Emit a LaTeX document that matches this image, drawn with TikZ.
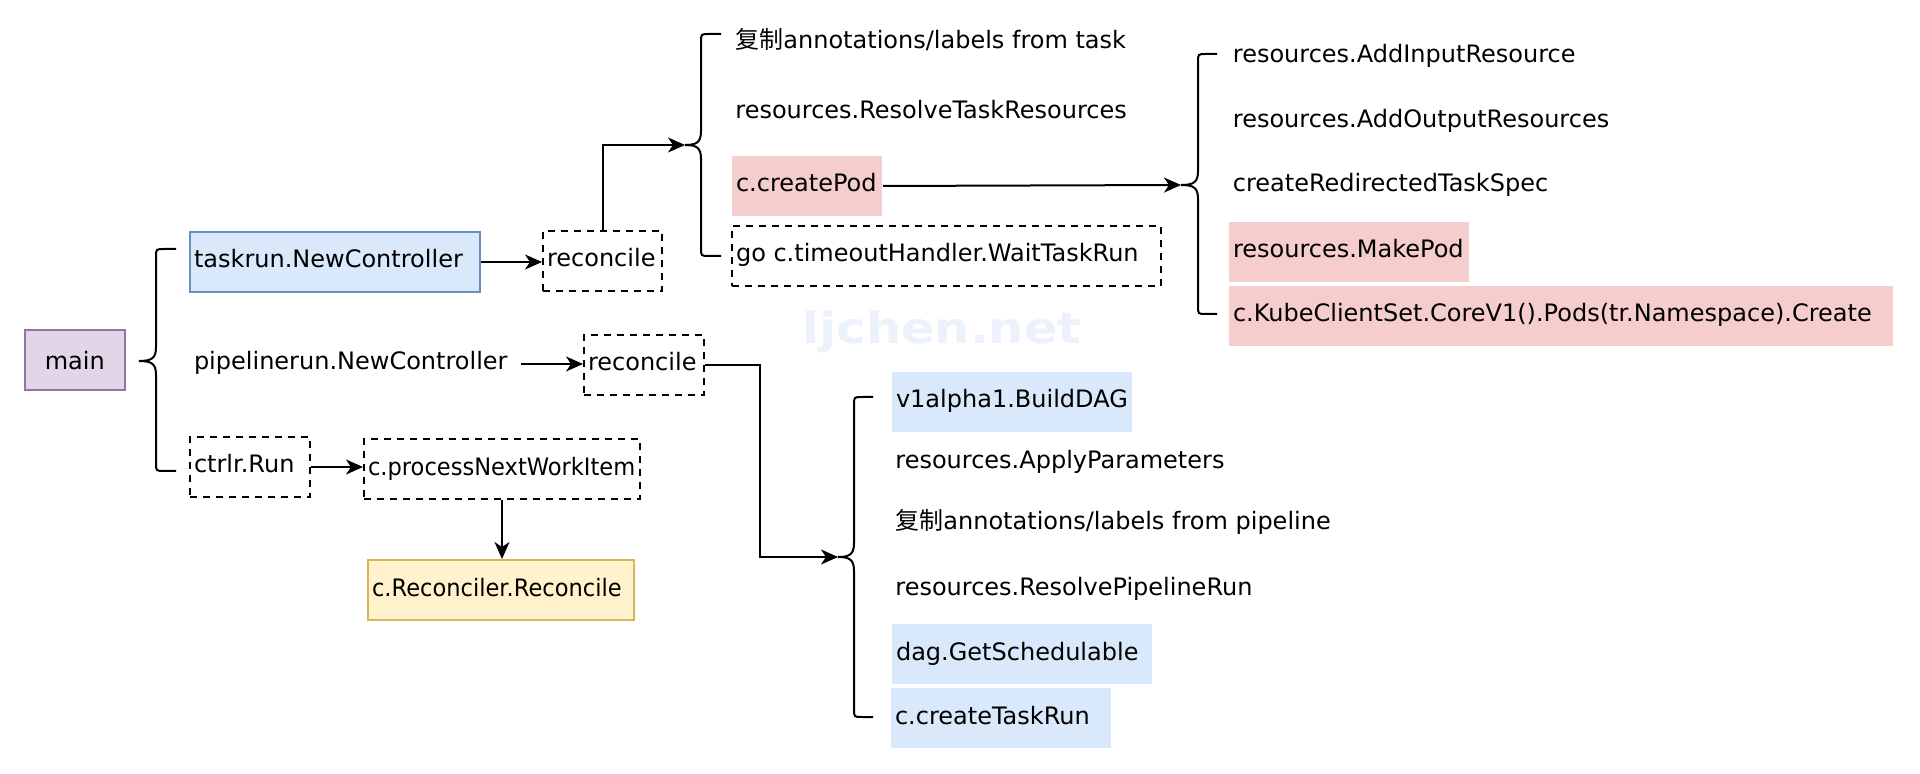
\documentclass[tikz,border=0pt]{standalone}
\usepackage{fontspec}
\setmainfont{DejaVu Sans}
\newfontfamily\cjk{Noto Sans CJK SC}
\usetikzlibrary{arrows.meta}
\definecolor{purplefill}{HTML}{E1D5E7}
\definecolor{purpleline}{HTML}{9673A6}
\definecolor{bluefill}{HTML}{DAE8FC}
\definecolor{blueline}{HTML}{6C8EBF}
\definecolor{redfill}{HTML}{F4CDCC}
\definecolor{yellowfill}{HTML}{FFF2CC}
\definecolor{yellowline}{HTML}{D6B656}
\definecolor{wmark}{RGB}{235,242,252}
\newcommand\lbx[2]{\makebox[#1][l]{#2}}
\newcommand\narrow[1]{\scalebox{0.94}[1]{#1}}
% name, x end, x vertical, x tip, y top, y mid, y bottom
\newcommand\mybrace[7]{%
  \draw[brace line] (#2,#5) -- (#3+8,#5) .. controls (#3,#5) .. (#3,#5+8)
    -- (#3,#6-14) .. controls (#3,#6-3) and (#3-4,#6) .. (#4,#6)
    .. controls (#3-4,#6) and (#3,#6+3) .. (#3,#6+14)
    -- (#3,#7-8) .. controls (#3,#7) .. (#3+8,#7) -- (#2,#7);
  \coordinate (#1) at (#4,#6);}
\tikzset{
  base/.style={font=\fontsize{12pt}{14pt}\selectfont, text height=9pt, text depth=3pt},
  box/.style={base, anchor=north west, inner xsep=2pt, inner ysep=0pt, minimum height=30pt, line width=1pt},
  dbox/.style={box, draw=black, dash pattern=on 3.5pt off 3pt},
  item/.style={base, anchor=west, inner sep=0pt},
  conn/.style={line width=1pt, -{Stealth[length=8.5pt,width=7.5pt,inset=2.5pt]}},
  brace line/.style={line width=1pt},
}
\begin{document}
\begin{tikzpicture}[x=0.5pt,y=-0.5pt]
\fill[white] (0,0) rectangle (1920,774);
\useasboundingbox (0,0) rectangle (1920,774);
% watermark
\node[font=\fontsize{21.5pt}{24pt}\selectfont\bfseries, text=wmark, inner sep=0pt] (wm) at (942,332) {\scalebox{1.15}[1]{ljchen.net}};
% braces
\mybrace{b1tip}{176}{156}{139}{249}{361}{471}
\mybrace{b2tip}{721}{701}{685}{34}{145}{256}
\mybrace{b3tip}{1217}{1198}{1181}{54}{185}{314}
\mybrace{b4tip}{873}{854}{838}{397}{557}{717}
% nodes
\node[box, anchor=center, draw=purpleline, fill=purplefill, minimum width=50.25pt, text height=11pt, text depth=1pt] (main) at (74.75,360) {main};
\node[box, draw=blueline, fill=bluefill] (task) at (189,231) {\lbx{141pt}{taskrun.NewController}};
\node[dbox] (rec1) at (542,230) {\lbx{55.5pt}{reconcile}};
\node[box, fill=redfill] (cpod) at (731,155) {\lbx{71pt}{c.createPod}};
\node[dbox] (gto) at (731,225) {\lbx{210.5pt}{go c.timeoutHandler.WaitTaskRun}};
\node[item] (cpy1) at (735,43) {{\cjk 复制}annotations/labels from task};
\node[item] (rtr) at (735,113) {resources.ResolveTaskResources};
\node[item] (addin) at (1232.5,57) {resources.AddInputResource};
\node[item] (addout) at (1232.5,121.5) {resources.AddOutputResources};
\node[item] (crts) at (1232.5,186) {createRedirectedTaskSpec};
\node[box, fill=redfill] (mkpod) at (1228,221) {\lbx{116pt}{resources.MakePod}};
\node[box, fill=redfill] (kube) at (1228,285) {\lbx{328pt}{c.KubeClientSet.CoreV1().Pods(tr.Namespace).Create}};
\node[box] (pipe) at (189,333) {\lbx{161pt}{pipelinerun.NewController}};
\node[dbox] (rec2) at (583,334) {\lbx{56pt}{reconcile}};
\node[dbox] (ctrl) at (189,436) {\lbx{56pt}{ctrlr.Run}};
\node[dbox] (proc) at (363,438) {\lbx{134pt}{\narrow{c.processNextWorkItem}}};
\node[box, draw=yellowline, fill=yellowfill] (rr) at (367,559) {\lbx{129pt}{\narrow{c.Reconciler.Reconcile}}};
\node[box, fill=bluefill] (dag) at (891,371) {\lbx{116pt}{v1alpha1.BuildDAG}};
\node[item] (apply) at (895,463) {resources.ApplyParameters};
\node[item] (cpy2) at (895,524) {{\cjk 复制}annotations/labels from pipeline};
\node[item] (rpr) at (895,589) {resources.ResolvePipelineRun};
\node[box, fill=bluefill] (gs) at (891,623) {\lbx{126pt}{dag.GetSchedulable}};
\node[box, fill=bluefill] (ctr) at (890,687) {\lbx{106pt}{c.createTaskRun}};
% connectors
\draw[conn] (task.east) -- (task.east -| rec1.west);
\draw[conn] (rec1.north) |- (b2tip);
\draw[conn] (cpod.east) -- (b3tip);
\draw[conn] (pipe.east) -- (pipe.east -| rec2.west);
\draw[conn] (rec2.east) -- ++(55,0) |- (b4tip);
\draw[conn] (ctrl.east) -- (ctrl.east -| proc.west);
\draw[conn] (proc.south) -- (proc.south |- rr.north);
\end{tikzpicture}
\end{document}
